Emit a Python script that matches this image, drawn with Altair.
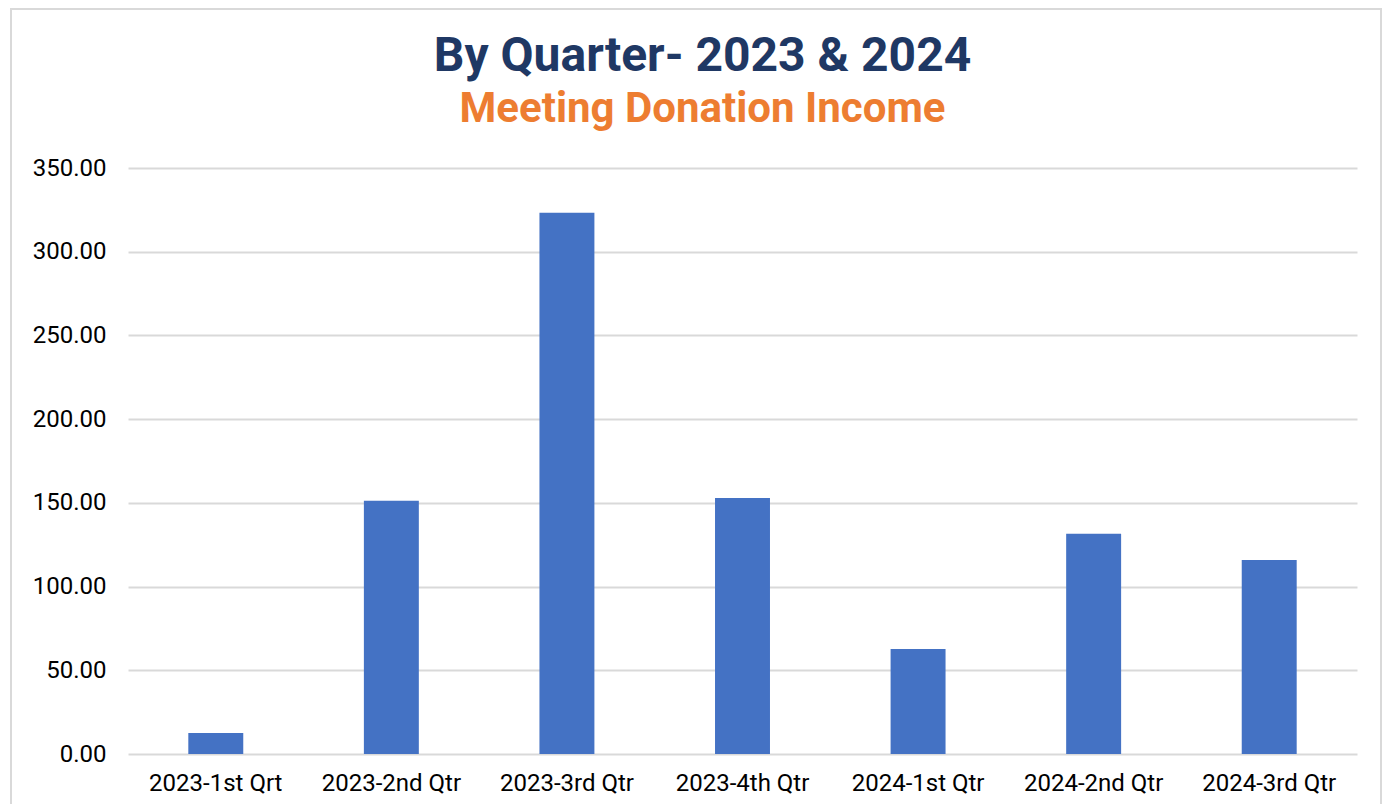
import altair as alt
import pandas as pd

quarters = ["2023-1st Qrt", "2023-2nd Qtr", "2023-3rd Qtr", "2023-4th Qtr",
            "2024-1st Qtr", "2024-2nd Qtr", "2024-3rd Qtr"]
income = [12.5, 151.2, 323.3, 152.9, 62.7, 131.6, 115.9]
y_ticks = [0, 50, 100, 150, 200, 250, 300, 350]

df = pd.DataFrame({"quarter": quarters, "income": income})

W, H = 1229, 586

bars = alt.Chart(df).mark_bar(color="#4472C4").encode(
    x=alt.X("quarter:N", sort=quarters,
            scale=alt.Scale(paddingInner=0.687, paddingOuter=0.3435),
            axis=alt.Axis(title=None, labelAngle=0, labelFont="Roboto",
                          labelFontSize=24, labelColor="#000000",
                          labelPadding=17, ticks=False, domain=False)),
    y=alt.Y("income:Q", scale=alt.Scale(domain=[0, 350], nice=False),
            axis=alt.Axis(title=None, values=y_ticks, format=".2f",
                          labelFont="Roboto", labelFontSize=24,
                          labelColor="#000000", labelPadding=22,
                          ticks=False, domain=False, grid=True,
                          gridColor="#D9D9D9", gridWidth=2)),
)

border = alt.Chart(pd.DataFrame({"k": [0]})).mark_rect(
    fill=None, stroke="#D9D9D9", strokeWidth=2, clip=False
).encode(
    x=alt.value(-117), x2=alt.value(1253), y=alt.value(-159), y2=alt.value(700)
)

chart = alt.layer(border, bars).properties(
    width=W, height=H,
    background="#FFFFFF",
    title=alt.TitleParams(
        text="By Quarter- 2023 & 2024",
        subtitle="Meeting Donation Income",
        font="Roboto", fontSize=48, fontWeight="bold", color="#1F3864",
        subtitleFont="Roboto", subtitleFontSize=42, subtitleFontWeight="bold",
        subtitleColor="#ED7D31", subtitlePadding=8,
        anchor="middle", frame="group", dx=-40, offset=-122,
    ),
    autosize=alt.AutoSizeParams(type="none"),
    padding={"left": 120, "top": 160, "right": 26, "bottom": 50},
).configure_view(stroke=None)

chart.save("out.html", embed_options={"renderer": "svg", "actions": False})
